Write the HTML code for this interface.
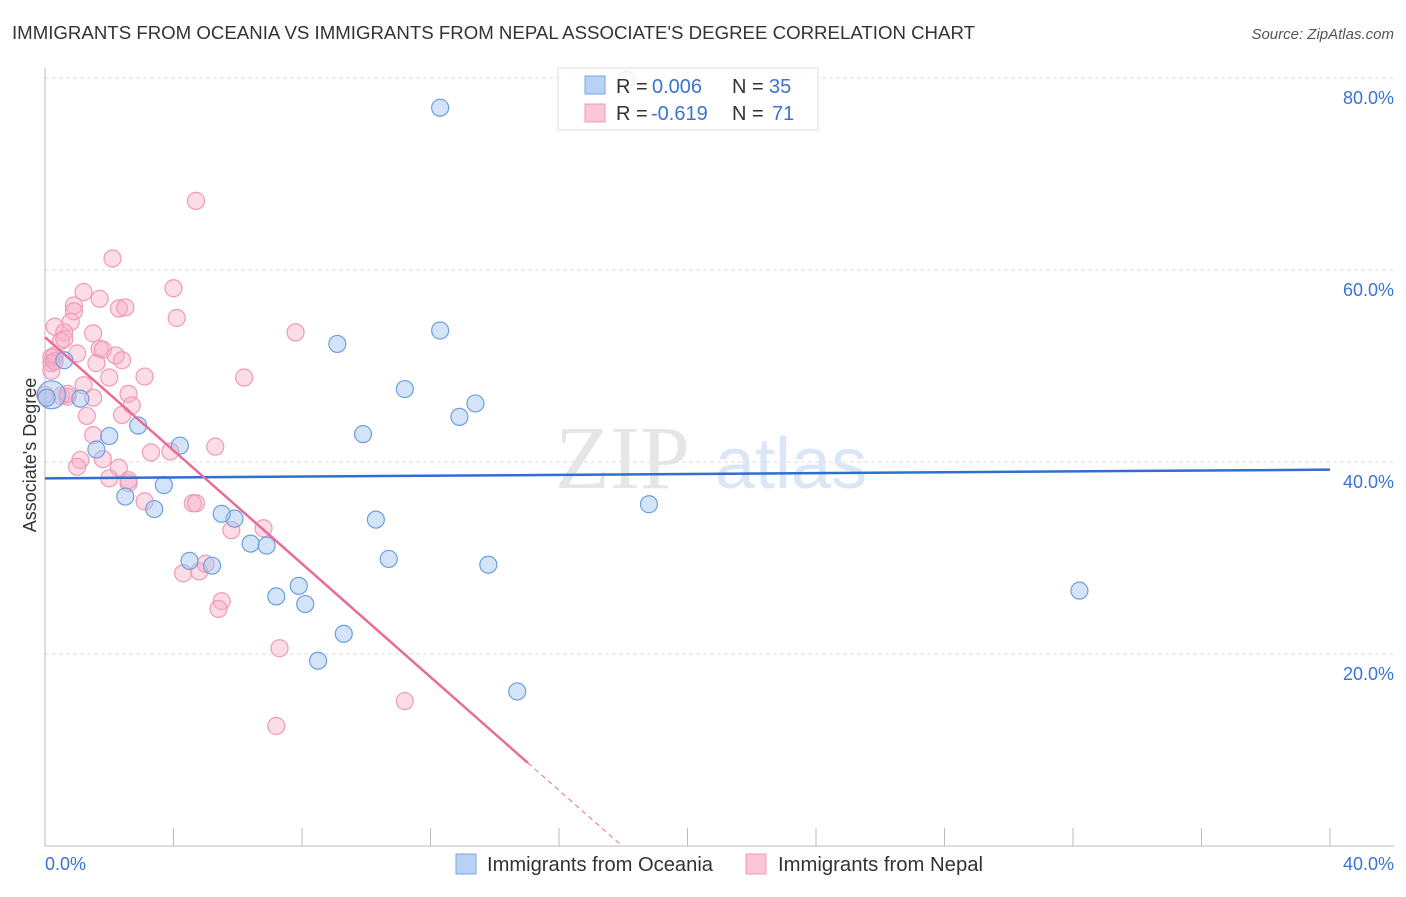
<!DOCTYPE html>
<html><head><meta charset="utf-8"><style>
body{margin:0;background:#fff;font-family:"Liberation Sans",sans-serif;}
</style></head><body>
<svg width="1406" height="892" xmlns="http://www.w3.org/2000/svg" font-family="Liberation Sans, sans-serif">
<text x="12" y="39" font-size="18" fill="#333" textLength="963" lengthAdjust="spacingAndGlyphs">IMMIGRANTS FROM OCEANIA VS IMMIGRANTS FROM NEPAL ASSOCIATE'S DEGREE CORRELATION CHART</text>
<text x="1394" y="39" font-size="15" fill="#555" text-anchor="end" font-style="italic">Source: ZipAtlas.com</text>
<g id="grid"></g>
<text x="690" y="488" font-size="90" fill="#e6e6e6" text-anchor="end" font-family="Liberation Serif, serif">ZIP</text>
<text x="715" y="488" font-size="72" fill="#dbe7f7">atlas</text>
<line x1="45" y1="68" x2="45" y2="846" stroke="#bbb"/>
<line x1="45" y1="846" x2="1394" y2="846" stroke="#bbb"/>
<text x="36" y="455" font-size="18" fill="#333" text-anchor="middle" transform="rotate(-90 36 455)">Associate's Degree</text>
<text x="45" y="870" font-size="18" fill="#3b73d0">0.0%</text>
<text x="1394" y="870" font-size="18" fill="#3b73d0" text-anchor="end">40.0%</text>
<g id="pts"></g>
<g id="lines"></g>
<g>
<rect x="558" y="68" width="260" height="62" fill="rgba(255,255,255,0.85)" stroke="#ddd"/>
<rect x="585" y="76" width="20" height="18" fill="#b8d2f5" stroke="#7aa7e0"/>
<rect x="585" y="104" width="20" height="18" fill="#fbc7d6" stroke="#f098b2"/>
<text x="616" y="93" font-size="20" fill="#333">R =</text>
<text x="652" y="93" font-size="20" fill="#3b73d0">0.006</text>
<text x="732" y="93" font-size="20" fill="#333">N =</text>
<text x="769" y="93" font-size="20" fill="#3b73d0">35</text>
<text x="616" y="120" font-size="20" fill="#333">R =</text>
<text x="651" y="120" font-size="20" fill="#3b73d0">-0.619</text>
<text x="732" y="120" font-size="20" fill="#333">N =</text>
<text x="772" y="120" font-size="20" fill="#3b73d0">71</text>
</g>
<g>
<rect x="456" y="854" width="20" height="20" fill="#b8d2f5" stroke="#7aa7e0"/>
<text x="487" y="871" font-size="20" fill="#333" textLength="226" lengthAdjust="spacingAndGlyphs">Immigrants from Oceania</text>
<rect x="746" y="854" width="20" height="20" fill="#fbc7d6" stroke="#f098b2"/>
<text x="778" y="871" font-size="20" fill="#333" textLength="205" lengthAdjust="spacingAndGlyphs">Immigrants from Nepal</text>
</g>
</svg>
<script>
const yTicks=[20,40,60,80];
const xTickVals=[0,4,8,12,16,20,24,28,32,36,40];
const oceaniaX=[18.1,12.3,12.3,9.1,11.2,13.4,12.9,9.9,10.3,10.7,13.8,18.8,32.2,14.7,8.5,9.3,8.1,7.9,7.2,6.9,6.4,5.9,5.5,5.2,4.5,3.7,3.4,2.5,4.2,2.9,2.0,1.6,1.1,0.6,0.2,0.05];
const oceaniaY=[79.8,76.9,53.7,52.3,47.6,46.1,44.7,42.9,34.0,29.9,29.3,35.6,26.6,16.1,19.3,22.1,25.2,27.1,26.0,31.3,31.5,34.1,34.6,29.2,29.7,37.6,35.1,36.4,41.7,43.8,42.7,41.3,46.6,50.6,47.0,46.7];
const nepalX=[4.7,2.1,4.0,4.1,7.8,6.2,5.3,4.6,4.7,4.3,4.8,5.0,5.5,5.4,7.3,7.2,11.2,6.8,5.8,1.7,1.2,0.9,0.9,2.3,2.5,0.3,0.8,0.6,1.5,0.5,0.6,1.7,2.2,1.6,1.0,0.3,0.2,0.2,3.1,2.0,2.6,2.7,1.2,0.5,0.7,1.3,2.4,1.5,1.8,3.3,1.1,1.0,2.3,2.0,2.6,3.1,2.6,3.9,0.2,0.3,0.0,0.7,1.5,2.4,1.8];
const nepalY=[67.2,61.2,58.1,55.0,53.5,48.8,41.6,35.7,35.7,28.4,28.6,29.4,25.5,24.7,20.6,12.5,15.1,33.1,32.9,57.0,57.7,56.3,55.7,56.0,56.1,54.1,54.6,53.5,53.4,52.6,52.8,51.8,51.1,50.3,51.3,51.1,50.9,50.3,48.9,48.8,47.1,45.9,48.0,46.9,46.8,44.8,44.9,42.8,40.3,41.0,40.2,39.5,39.4,38.3,37.8,35.9,38.1,41.1,49.5,50.5,47.0,47.1,46.7,50.6,51.7];
const trendO=[38.3,39.2];
const trendN=[53.0,-65.0];
const SVGNS="http://www.w3.org/2000/svg";
const X=v=>45+v/40*1285, Y=v=>846-v/20*192;
function mk(t,a,p){const e=document.createElementNS(SVGNS,t);for(const k in a)e.setAttribute(k,a[k]);p.appendChild(e);return e;}
const grid=document.getElementById('grid');
yTicks.forEach(t=>{
 const l=mk('line',{x1:45,x2:1394,y1:Y(t),y2:Y(t),stroke:'#ddd','stroke-dasharray':'4,3'},grid);
 
 
 const tx=mk('text',{x:1394,y:Y(t)+26,'font-size':18,fill:'#3b73d0','text-anchor':'end'},grid);
 tx.textContent=t.toFixed(1)+'%';
 
 
});
xTickVals.forEach(v=>{
 const l=mk('line',{x1:X(v),x2:X(v),y1:828,y2:846,stroke:'#bbb'},grid);
 
 
});
const pts=document.getElementById('pts');
nepalX.forEach((x,i)=>{
 const c=mk('circle',{cx:X(x),cy:Y(nepalY[i]),r:8.5,fill:'rgba(248,170,195,0.4)',stroke:'#f09ab5','stroke-width':1.2},pts);
 
 
});
oceaniaX.forEach((x,i)=>{
 const c=mk('circle',{cx:X(x),cy:Y(oceaniaY[i]),r:(i==34?14:8.5),fill:'rgba(160,195,240,0.45)',stroke:'#6d9fe0','stroke-width':1.2},pts);
 
 
});
const lines=document.getElementById('lines');
let l=mk('line',{x1:X(0),y1:Y(trendO[0]),x2:X(40),y2:Y(trendO[1]),stroke:'#2f6fd0','stroke-width':2.5},lines);


const nAt=x=>trendN[0]+(trendN[1]-trendN[0])*x/40;
const xEnd=15.03, xZero=(0-trendN[0])/(trendN[1]-trendN[0])*40;
l=mk('line',{x1:X(0),y1:Y(nAt(0)),x2:X(xEnd),y2:Y(nAt(xEnd)),stroke:'#ea6b95','stroke-width':2.5},lines);


l=mk('line',{x1:X(xEnd),y1:Y(nAt(xEnd)),x2:X(xZero),y2:Y(0),stroke:'#ea6b95','stroke-width':1,'stroke-dasharray':'5,4'},lines);


</script>
</body></html>
